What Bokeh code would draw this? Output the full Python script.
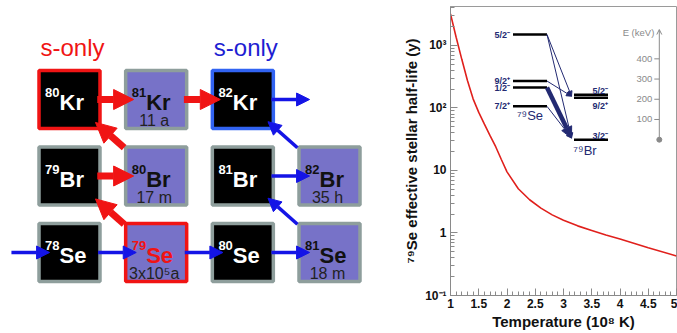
import numpy as np
from bokeh.plotting import figure
from bokeh.layouts import row
from bokeh.models import (ColumnDataSource, Range1d, Arrow, NormalHead, OpenHead,
                          FixedTicker, SingleIntervalTicker, LinearScale)
from bokeh.core.properties import value
from bokeh.embed import file_html
from bokeh.resources import INLINE

FONT = "Liberation Sans"

# ---------------- data: chart of nuclides ----------------
mass = [80, 81, 82, 79, 80, 81, 82, 78, 79, 80, 81]
symbol = ["Kr", "Kr", "Kr", "Br", "Br", "Br", "Br", "Se", "Se", "Se", "Se"]
protons = [36, 36, 36, 35, 35, 35, 35, 34, 34, 34, 34]
half_life = ["", "11 a", "", "", "17 m", "", "35 h", "", "3x10⁵a", "", "18 m"]
is_stable = [True, False, True, True, False, True, False, True, False, True, False]
frame_kind = ["red", "grey", "blue", "grey", "grey", "grey", "grey", "grey", "red", "grey", "grey"]

s_only_mass = [80, 82]
s_only_Z = [36, 36]
s_only_kind = ["red", "blue"]

# (A_from, Z_from, A_to, Z_to)
red_flow = [(79, 34, 79, 35), (79, 35, 80, 35), (80, 35, 80, 36), (80, 36, 81, 36), (81, 36, 82, 36)]
blue_flow = [(77, 34, 78, 34), (78, 34, 79, 34), (79, 34, 80, 34), (80, 34, 81, 34),
             (81, 34, 81, 35), (81, 35, 82, 35), (82, 35, 82, 36), (82, 36, 83, 36)]

# ---------------- data: 79Se effective stellar half-life ----------------
temperature = [1.0, 1.1, 1.2, 1.3, 1.4, 1.5, 1.6, 1.7, 1.8, 1.9, 2.0, 2.2, 2.4, 2.6, 2.8,
               3.0, 3.25, 3.5, 3.75, 4.0, 4.5, 5.0]
eff_half_life = [3200, 1350, 600, 275, 140, 85, 55, 36, 24, 15, 9.5, 5.1, 3.4, 2.5, 1.95,
                 1.6, 1.3, 1.1, 0.93, 0.8, 0.58, 0.43]

y_tick_values = [0.1, 1, 10, 100, 1000]
y_tick_labels = ["10⁻¹", "1", "10", "10²", "10³"]

# ---------------- data: level scheme (keV) ----------------
se_level_E = [520, 290, 258, 165]
se_level_spin = ["5/2⁻", "9/2⁺", "1/2⁻", "7/2⁺"]
br_level_E = [222, 207, 0]
br_level_spin = ["5/2⁻", "9/2⁺", "3/2⁻"]
br_spin_above = [True, False, True]
weak_from_E = [520, 520, 290, 165]
weak_to_E = [215, 8, 215, 8]
strong_from_E = [258]
strong_to_E = [8]
energy_ticks = [100, 200, 300, 400]
energy_axis_top = 545

# ---------------- styles ----------------
RED = "#f01414"
BLUE = "#1414e6"
EDGE = {"red": RED, "blue": "#3163f2", "grey": "#8e9e9c"}
PURPLE = "#7772c8"
NAVY = "#232a72"
GREY = "#8a8a8a"

# ================= left: nuclide chart =================
N = [a - z for a, z in zip(mass, protons)]
fill = ["black" if s else PURPLE for s in is_stable]
edge = [EDGE[k] for k in frame_kind]
tcol = []
for s, k in zip(is_stable, frame_kind):
    if s:
        tcol.append("white")
    elif k == "red":
        tcol.append(RED)
    else:
        tcol.append("#111111")

src = ColumnDataSource(dict(N=N, Z=protons, fill=fill, edge=edge, tcol=tcol,
                            mass=[str(a) for a in mass], sym=symbol, hl=half_life))

left = figure(width=400, height=333, x_range=Range1d(43.2038, 47.8192),
              y_range=Range1d(33.4379, 37.2157), toolbar_location=None, output_backend="svg",
              x_axis_location=None, y_axis_location=None,
              min_border_left=0, min_border_right=0, min_border_top=6, min_border_bottom=38)
left.outline_line_color = None
left.grid.visible = False

left.rect(x="N", y="Z", width=61, height=58, width_units="screen", height_units="screen",
          fill_color="fill", line_color="edge", line_width=3.5, source=src)
left.text(x="N", y="Z", text="mass", x_offset=-10, y_offset=-7, text_align="right",
          text_baseline="alphabetic", text_font=value(FONT), text_font_style="bold",
          text_font_size="13px", text_color="tcol", source=src)
left.text(x="N", y="Z", text="sym", x_offset=-10, y_offset=3, text_align="left",
          text_baseline="alphabetic", text_font=value(FONT), text_font_style="bold",
          text_font_size="22px", text_color="tcol", source=src)
left.text(x="N", y="Z", text="hl", x_offset=-2, y_offset=21, text_align="center",
          text_baseline="alphabetic", text_font=value(FONT), text_font_size="16px",
          text_color="#222222", source=src)

so_src = ColumnDataSource(dict(N=[a - z for a, z in zip(s_only_mass, s_only_Z)], Z=s_only_Z,
                               c=[RED if k == "red" else "#1e1ed2" for k in s_only_kind],
                               t=["s-only"] * len(s_only_mass)))
left.text(x="N", y="Z", text="t", x_offset=3, y_offset=-52, text_align="center",
          text_baseline="alphabetic", text_font=value(FONT), text_font_size="24px",
          text_color="c", source=so_src)


def flow_source(flow, f_h, f_d):
    d = dict(x0=[], y0=[], x1=[], y1=[])
    for a0, z0, a1, z1 in flow:
        n0, n1 = a0 - z0, a1 - z1
        f0, f1 = f_h if z0 == z1 else f_d
        d["x0"].append(n0 + f0 * (n1 - n0))
        d["y0"].append(z0 + f0 * (z1 - z0))
        d["x1"].append(n0 + f1 * (n1 - n0))
        d["y1"].append(z0 + f1 * (z1 - z0))
    return ColumnDataSource(d)


left.add_layout(Arrow(x_start="x0", y_start="y0", x_end="x1", y_end="y1",
                      source=flow_source(red_flow, (0.32, 0.74), (0.37, 0.70)),
                      line_color=RED, line_width=7,
                      end=NormalHead(size=20, fill_color=RED, line_color=RED, line_width=1)))
left.add_layout(Arrow(x_start="x0", y_start="y0", x_end="x1", y_end="y1",
                      source=flow_source(blue_flow, (0.33, 0.77), (0.37, 0.71)),
                      line_color=BLUE, line_width=3.5,
                      end=NormalHead(size=13, fill_color=BLUE, line_color=BLUE, line_width=1)))

# ================= right: half-life plot =================
right = figure(width=277, height=333, x_range=Range1d(1, 5), y_range=Range1d(0.1, 4200),
               y_axis_type="log", toolbar_location=None, output_backend="svg",
               min_border_left=49, min_border_right=1, min_border_top=6, min_border_bottom=38)
right.outline_line_color = "#9a9a9a"
right.grid.visible = False

right.line(temperature, eff_half_life, line_color="#e0201c", line_width=1.6)

right.xaxis.ticker = SingleIntervalTicker(interval=0.5, num_minor_ticks=5)
y_minor = [m * d for d in y_tick_values for m in range(2, 10)]
right.yaxis.ticker = FixedTicker(ticks=y_tick_values, minor_ticks=y_minor)
right.yaxis.major_label_overrides = dict(zip(y_tick_values, y_tick_labels))

for ax in (right.xaxis[0], right.yaxis[0]):
    ax.axis_line_color = GREY
    ax.major_tick_line_color = GREY
    ax.minor_tick_line_color = GREY
    ax.major_tick_in = 7
    ax.major_tick_out = 0
    ax.minor_tick_in = 4
    ax.minor_tick_out = 0
    ax.major_label_text_font = FONT
    ax.major_label_text_font_style = "bold"
    ax.major_label_text_font_size = "12px"
    ax.major_label_text_color = "#111111"
    ax.axis_label_text_font = FONT
    ax.axis_label_text_font_style = "bold"
    ax.axis_label_text_font_size = "15px"
    ax.axis_label_text_color = "#111111"

right.xaxis.axis_label = "Temperature (10⁸ K)"
right.yaxis.axis_label = "⁷⁹Se effective stellar half-life (y)"
right.xaxis.major_label_standoff = 3
right.xaxis.axis_label_standoff = 2
right.yaxis.major_label_standoff = 4
right.yaxis.axis_label_standoff = 2

# ---- inset level scheme (inset x: pixels from frame left, inset y: keV) ----
right.extra_x_ranges = {"ix": Range1d(0, 226)}
right.extra_y_ranges = {"iy": Range1d(-771, 659)}
right.extra_y_scales = {"iy": LinearScale()}
RN = dict(x_range_name="ix", y_range_name="iy")

se_x0, se_x1 = 62.5, 96.5
br_x0, br_x1 = 123.5, 157.5
e_axis_x = 208.8

right.segment(x0=[se_x0] * len(se_level_E), y0=se_level_E, x1=[se_x1] * len(se_level_E),
              y1=se_level_E, line_color="black", line_width=2.5, **RN)
right.segment(x0=[br_x0] * len(br_level_E), y0=br_level_E, x1=[br_x1] * len(br_level_E),
              y1=br_level_E, line_color="black", line_width=2.5, **RN)

right.add_layout(Arrow(x_start="x0", y_start="y0", x_end="x1", y_end="y1",
                       source=ColumnDataSource(dict(x0=[se_x1] * len(weak_from_E), y0=weak_from_E,
                                                    x1=[br_x0 - 2.5] * len(weak_to_E), y1=weak_to_E)),
                       line_color=NAVY, line_width=1,
                       end=NormalHead(size=5, fill_color=NAVY, line_color=NAVY, line_width=1), **RN))
right.add_layout(Arrow(x_start="x0", y_start="y0", x_end="x1", y_end="y1",
                       source=ColumnDataSource(dict(x0=[se_x1] * len(strong_from_E), y0=strong_from_E,
                                                    x1=[br_x0 - 2.5] * len(strong_to_E), y1=strong_to_E)),
                       line_color=NAVY, line_width=4.5,
                       end=NormalHead(size=11, fill_color=NAVY, line_color=NAVY, line_width=1), **RN))

right.text(x=[se_x0 - 3] * len(se_level_E), y=se_level_E, text=se_level_spin, y_offset=0,
           text_align="right", text_baseline="middle", text_font=value(FONT),
           text_font_style="bold", text_font_size="9px", text_color=NAVY, **RN)
above_E = [e for e, a in zip(br_level_E, br_spin_above) if a]
above_t = [t for t, a in zip(br_level_spin, br_spin_above) if a]
below_E = [e for e, a in zip(br_level_E, br_spin_above) if not a]
below_t = [t for t, a in zip(br_level_spin, br_spin_above) if not a]
right.text(x=[br_x1] * len(above_E), y=above_E, text=above_t, y_offset=-4,
           text_align="right", text_baseline="alphabetic", text_font=value(FONT),
           text_font_style="bold", text_font_size="9px", text_color=NAVY, **RN)
right.text(x=[br_x1] * len(below_E), y=below_E, text=below_t, y_offset=3,
           text_align="right", text_baseline="top", text_font=value(FONT),
           text_font_style="bold", text_font_size="9px", text_color=NAVY, **RN)
right.text(x=[(se_x0 + se_x1) / 2], y=[min(se_level_E)], text=["⁷⁹Se"], y_offset=2,
           text_align="center", text_baseline="top", text_font=value(FONT),
           text_font_size="13px", text_color=NAVY, **RN)
right.text(x=[(br_x0 + br_x1) / 2 - 6], y=[min(br_level_E)], text=["⁷⁹Br"], y_offset=3,
           text_align="center", text_baseline="top", text_font=value(FONT),
           text_font_size="13px", text_color=NAVY, **RN)

# energy axis
right.add_layout(Arrow(x_start=e_axis_x, y_start=0, x_end=e_axis_x, y_end=energy_axis_top,
                       line_color=GREY, line_width=1,
                       end=OpenHead(size=5, line_color=GREY, line_width=1), **RN))
right.segment(x0=[e_axis_x - 5] * len(energy_ticks), y0=energy_ticks,
              x1=[e_axis_x] * len(energy_ticks), y1=energy_ticks, line_color=GREY,
              line_width=1, **RN)
right.text(x=[e_axis_x - 7] * len(energy_ticks), y=energy_ticks,
           text=[str(e) for e in energy_ticks], text_align="right", text_baseline="middle",
           text_font=value(FONT), text_font_size="9.5px", text_color=GREY, **RN)
right.text(x=[e_axis_x - 5], y=[energy_axis_top - 15], text=["E (keV)"], text_align="right",
           text_baseline="middle", text_font=value(FONT), text_font_size="9.5px",
           text_color=GREY, **RN)
right.scatter(x=[e_axis_x], y=[0], size=5, color=GREY, **RN)

layout = row(left, right)
open("out.html", "w").write(file_html(layout, INLINE))
